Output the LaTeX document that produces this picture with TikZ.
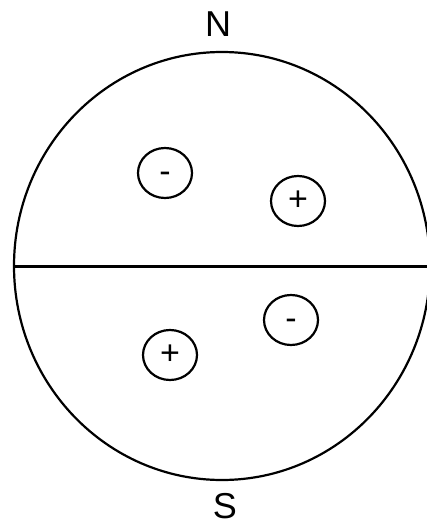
\documentclass[tikz,border=0pt]{standalone}
\usepackage{fontspec}
\setmainfont{Liberation Sans}
\usetikzlibrary{shapes.geometric}
\begin{document}
\begin{tikzpicture}[x=1pt,y=-1pt,
  globe/.style={draw, line width=2.2pt, ellipse, inner sep=0pt, minimum width=416pt, minimum height=428pt},
  charge/.style={draw, line width=2.2pt, ellipse, inner sep=0pt, minimum width=54pt, minimum height=50pt, font=\fontsize{34}{36}\selectfont},
  pole/.style={inner sep=0pt, font=\fontsize{36}{38}\selectfont}]
\useasboundingbox (0,0) rectangle (427,527);
\node[globe] (g) at (222,266) {};
\draw[line width=3pt] (g.west) -- (g.east);
\node[charge] (c1) at (165,173) {\vphantom{+}-};
\node[charge] (c2) at (298,201) {\vphantom{+}+};
\node[charge] (c3) at (170,355) {\vphantom{+}+};
\node[charge] (c4) at (291,320) {\vphantom{+}-};
\node[pole] (n) at (218,24.5) {N};
\node[pole] (s) at (225,506) {S};
\end{tikzpicture}
\end{document}
